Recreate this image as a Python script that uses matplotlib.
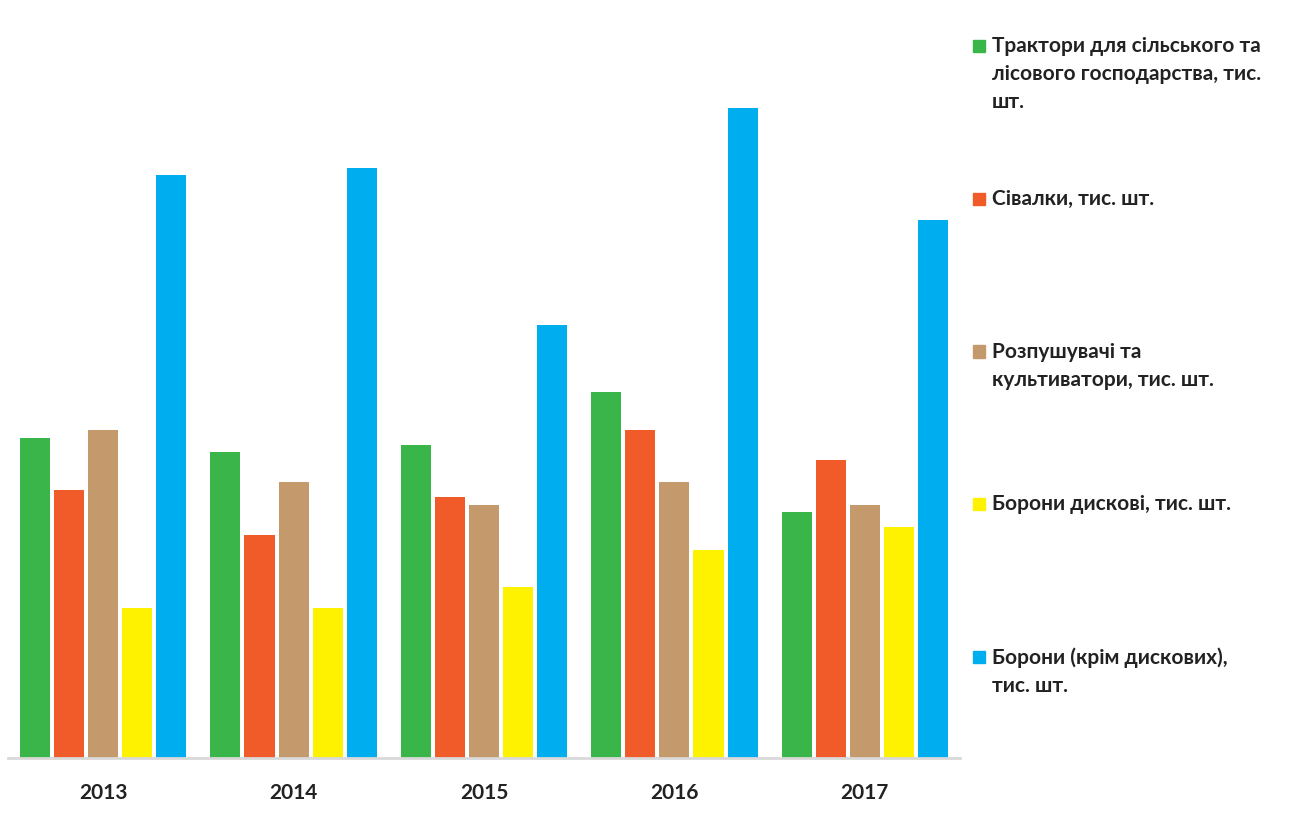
import matplotlib.pyplot as plt
import numpy as np
from matplotlib.patches import Rectangle

plt.rcParams['font.family'] = ['Lato', 'DejaVu Sans']
plt.rcParams['font.weight'] = 'bold'

years = ['2013', '2014', '2015', '2016', '2017']
series = [
    'Трактори для сільського та\nлісового господарства, тис.\nшт.',
    'Сівалки, тис. шт.',
    'Розпушувачі та\nкультиватори, тис. шт.',
    'Борони дискові, тис. шт.',
    'Борони (крім дискових),\nтис. шт.',
]
# heights (no axis scale shown)
tractors = [320, 306, 313, 366, 246]
seeders = [268, 223, 261, 328, 298]
cultivators = [328, 276, 253, 276, 253]
disc_harrows = [150, 150, 171, 208, 231]
harrows = [583, 590, 433, 650, 538]
values = [tractors, seeders, cultivators, disc_harrows, harrows]
colors = ['#3AB54A', '#F15A29', '#C49A6C', '#FFF200', '#00AEEF']

W, H = 1298, 826
fig = plt.figure(figsize=(W / 100, H / 100), dpi=100)
ax = fig.add_axes([8 / W, (H - 758) / H, 952 / W, 738 / H])

x = np.arange(len(years))
bw = 30 / 190
step = 34 / 190
for i, (vals, c) in enumerate(zip(values, colors)):
    ax.bar(x + (i - 2) * step, vals, width=bw, color=c)

ax.set_xlim(-0.5, len(years) - 0.5)
ax.set_ylim(0, 738)
ax.set_xticks(x)
ax.set_xticklabels(years, fontsize=15, fontweight='bold', color='#222222')
ax.tick_params(axis='x', length=0, pad=18)
ax.set_yticks([])
for s in ['top', 'right', 'left']:
    ax.spines[s].set_visible(False)
ax.spines['bottom'].set_color('#D9D9D9')
ax.spines['bottom'].set_linewidth(2)

# legend, placed like the original
for i, (lab, c) in enumerate(zip(series, colors)):
    yc = 46 + 152.75 * i
    fig.patches.append(Rectangle((973 / W, 1 - (yc + 6) / H), 12 / W, 12 / H,
                                 transform=fig.transFigure, color=c))
    fig.text(992 / W, 1 - (yc - 10) / H, lab, fontsize=15, fontweight='bold',
             va='top', ha='left', color='#222222', linespacing=1.5)

fig.savefig('out.png', dpi=100)
